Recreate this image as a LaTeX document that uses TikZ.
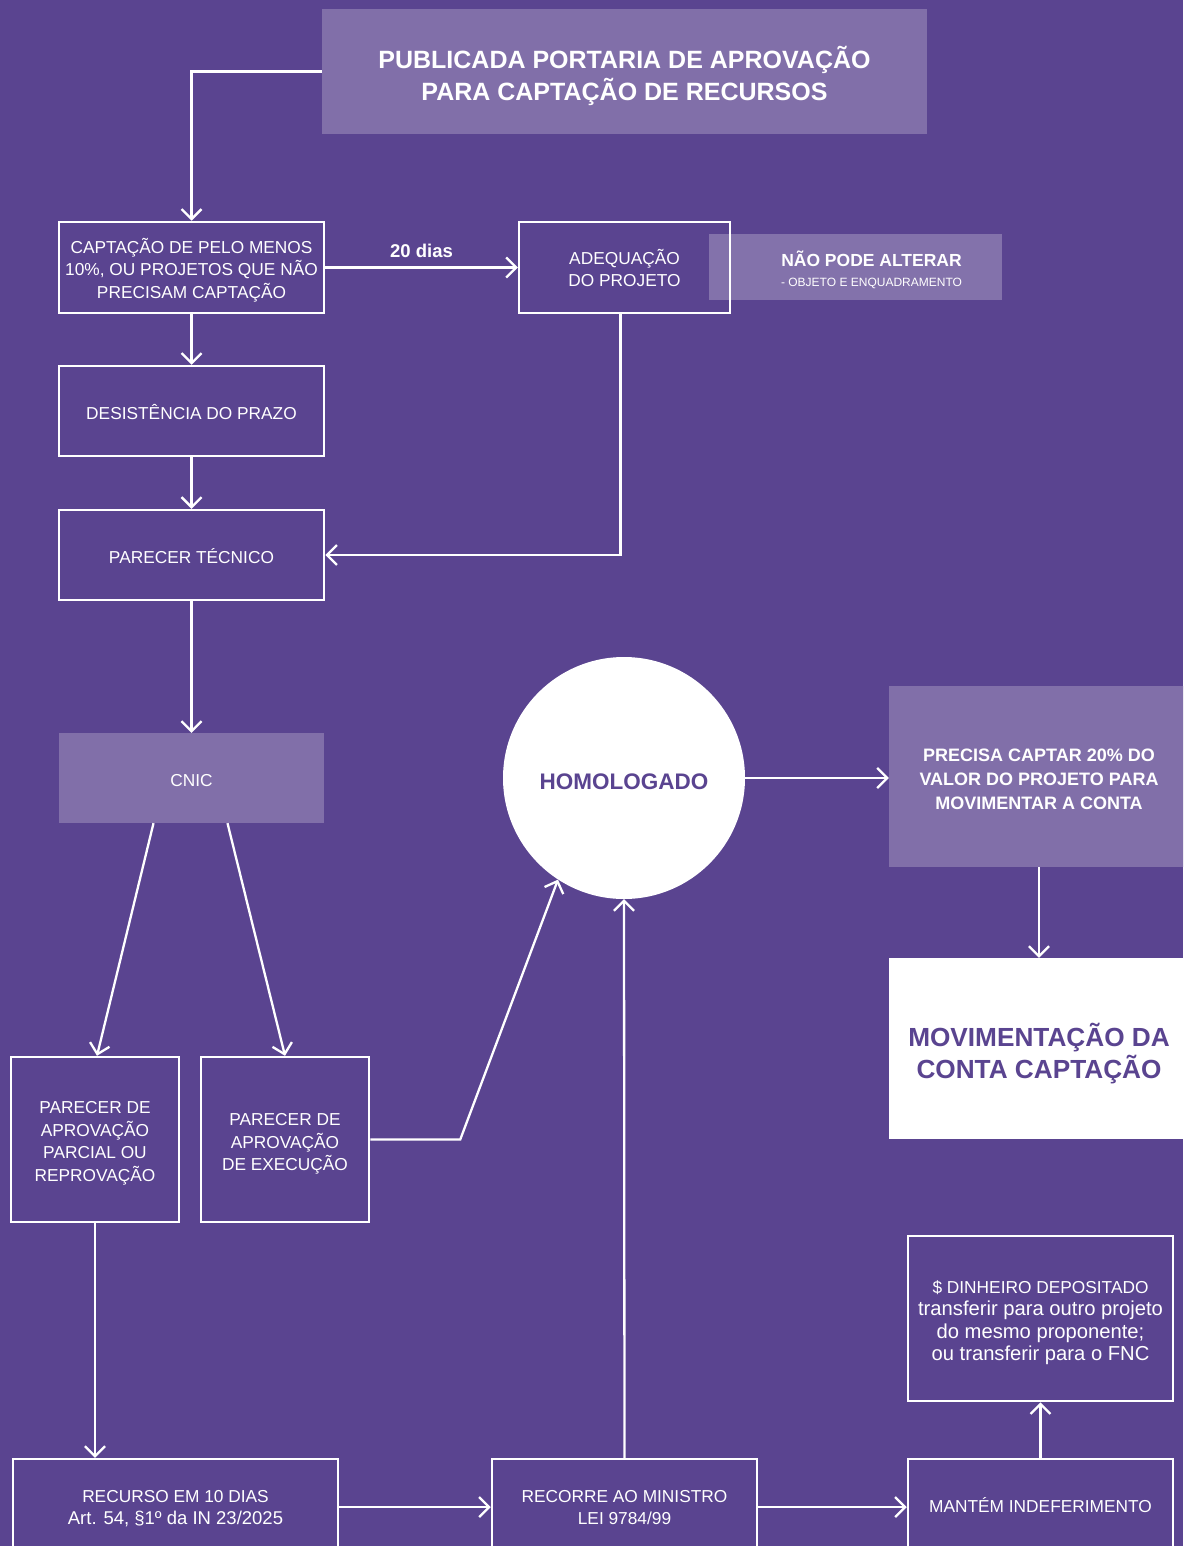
\documentclass[tikz,border=0pt]{standalone}
\usepackage{fontspec}
\setmainfont{Liberation Sans}
\usetikzlibrary{arrows.meta}
\definecolor{bgp}{RGB}{90,68,144}
\definecolor{lightp}{RGB}{129,111,169}
\begin{document}
\begin{tikzpicture}[x=1pt,y=-1pt,
  every node/.style={text=white, align=center, inner sep=0pt},
  th/.style={text height=#1, text depth=0pt},
  fr/.style={draw=white, line width=2.5pt, font=\fontsize{17.3}{22.5}\selectfont},
  lt/.style={fill=lightp, font=\fontsize{17.3}{22.5}\selectfont},
  boldlt/.style={fill=lightp, font=\bfseries\fontsize{18}{24}\selectfont},
  arr/.style={draw=white, line width=2.3pt, -{Straight Barb[length=10pt,width=20pt]}}
]
\useasboundingbox (0,0) rectangle (1183,1546);
\fill[bgp] (0,0) rectangle (1183,1546);
\clip (0,0) rectangle (1183,1546);

% nodes
\node[fill=lightp, minimum width=605, minimum height=125, th=58.9, font=\bfseries\fontsize{25}{32}\selectfont]
  (title) at (624.5,71.5) {PUBLICADA PORTARIA DE APROVAÇÃO\\PARA CAPTAÇÃO DE RECURSOS};

\node[fr, minimum width=265, minimum height=91, th=61.4] (capt) at (191.5,267.5)
  {CAPTAÇÃO DE PELO MENOS\\10\%, OU PROJETOS QUE NÃO\\PRECISAM CAPTAÇÃO};
\node[fr, minimum width=211, minimum height=91, th=38.9] (adeq) at (624.5,267.5)
  {ADEQUAÇÃO\\DO PROJETO};
\node[fill=white, fill opacity=0.25, text opacity=1, minimum width=293, minimum height=66, th=39,
  font=\bfseries\fontsize{17.5}{22}\selectfont] (nao) at (855.5,267)
  {\hspace*{32pt}NÃO PODE ALTERAR\\[-2pt]\hspace*{32pt}{\mdseries\fontsize{12}{14}\selectfont - OBJETO E ENQUADRAMENTO}};

\node[fr, minimum width=265, minimum height=90, th=16.4] (des) at (191.5,411) {DESISTÊNCIA DO PRAZO};
\node[fr, minimum width=265, minimum height=90, th=16.4] (tec) at (191.5,555) {PARECER TÉCNICO};
\node[lt, minimum width=265, minimum height=90, th=16.4] (cnic) at (191.5,778) {CNIC};

\node[fr, minimum width=168, minimum height=165, th=83.9] (parc) at (95,1139.5)
  {PARECER DE\\APROVAÇÃO\\PARCIAL OU\\REPROVAÇÃO};
\node[fr, minimum width=168, minimum height=165, th=62.4] (exec) at (285,1139.5)
  {PARECER DE\\APROVAÇÃO\\DE EXECUÇÃO};

\node[circle, fill=white, minimum size=242, text=bgp, th=22.1, font=\bfseries\fontsize{22.5}{26}\selectfont]
  (homo) at (624,778) {HOMOLOGADO};

\node[boldlt, minimum width=300, minimum height=181, th=65.9] (prec) at (1039,776.5)
  {PRECISA CAPTAR 20\% DO\\VALOR DO PROJETO PARA\\MOVIMENTAR A CONTA};
\node[fill=white, text=bgp, minimum width=300, minimum height=181, th=59.8, font=\bfseries\fontsize{26.2}{32}\selectfont]
  (mov) at (1039,1048.5) {MOVIMENTAÇÃO DA\\CONTA CAPTAÇÃO};

\node[fr, minimum width=265, minimum height=165, th=84.9] (din) at (1040.5,1318.5)
  {\$ DINHEIRO DEPOSITADO\\{\fontsize{20.2}{22.5}\selectfont transferir para outro projeto}\\{\fontsize{20.2}{22.5}\selectfont do mesmo proponente;}\\{\fontsize{20.2}{22.5}\selectfont ou transferir para o FNC}};

\node[fr, minimum width=325, minimum height=96, th=35.9] (rec) at (175.5,1507)
  {RECURSO EM 10 DIAS\\{\fontsize{18.5}{22.5}\selectfont Art. 54, §1º da IN 23/2025}};
\node[fr, minimum width=265, minimum height=96, th=35.9] (min) at (624.5,1507)
  {RECORRE AO MINISTRO\\LEI 9784/99};
\node[fr, minimum width=265, minimum height=96, th=10.4] (man) at (1040.5,1507)
  {MANTÉM INDEFERIMENTO};

% connectors
\draw[arr] (title.west) -| (capt.north);
\draw[arr] (capt.east) -- node[above=9pt, font=\bfseries\fontsize{18.5}{20}\selectfont] {20 dias} (adeq.west);
\draw[arr] ([xshift=-4pt]adeq.south) |- (tec.east);
\draw[arr] (capt.south) -- (des.north);
\draw[arr] (des.south) -- (tec.north);
\draw[arr] (tec.south) -- (cnic.north);
\draw[arr] ([xshift=-38pt]cnic.south) -- ([xshift=2pt]parc.north);
\draw[arr] ([xshift=36pt]cnic.south) -- (exec.north);
\draw[arr] (exec.east) -- ++(90,0) -- (homo.237);
\draw[arr] (homo.east) -- (homo.east -| prec.west);
\draw[arr] (prec.south) -- (mov.north);
\draw[arr] (parc.south) -- (parc.south |- rec.north);
\draw[arr] (rec.east) -- (min.west);
\draw[arr] (min.north) -- (homo.south);
\draw[arr] (min.east) -- (man.west);
\draw[arr] (man.north) -- (din.south);
\end{tikzpicture}
\end{document}
